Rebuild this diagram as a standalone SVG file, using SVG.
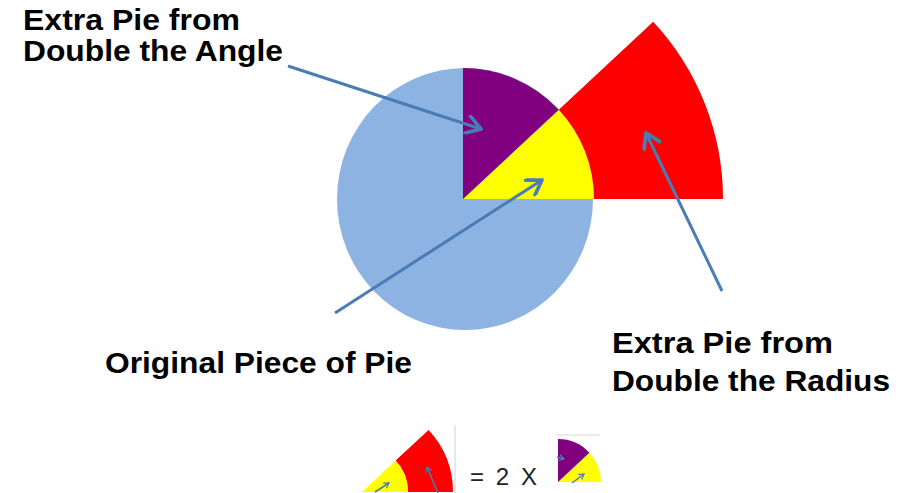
<svg xmlns="http://www.w3.org/2000/svg" width="898" height="493" viewBox="0 0 898 493">
  <defs>
    <marker id="arrow" markerUnits="userSpaceOnUse" markerWidth="20" markerHeight="20" refX="13" refY="8" orient="auto" viewBox="0 0 16 16">
      <path d="M2,1 L13,8 L2,15" fill="none" stroke="#4A7DB5" stroke-width="3" stroke-linecap="round" stroke-linejoin="round"/>
    </marker>
    <marker id="arrowSmall" markerUnits="userSpaceOnUse" markerWidth="8" markerHeight="8" refX="6" refY="4" orient="auto" viewBox="0 0 8 8">
      <path d="M1,1 L6,4 L1,7" fill="none" stroke="#4A7DB5" stroke-width="1.2"/>
    </marker>
  </defs>
  <style>
    .lbl { font-family: "Liberation Sans", Arial, sans-serif; font-weight: bold; font-size: 29px; fill: #000; }
    .conn { fill: none; stroke: #4A7DB5; stroke-width: 3; marker-end: url(#arrow); }
    .conn-s { fill: none; stroke: #4A7DB5; stroke-width: 1.5; marker-end: url(#arrowSmall); }
    .blue { fill: #8DB3E2; }
    .purple { fill: #800080; }
    .yellow { fill: #FFFF00; }
    .red { fill: #FF0000; }
  </style>
  <rect width="898" height="493" fill="#FFFFFF"/>

  <g id="pie">
    <ellipse class="blue" cx="465" cy="199" rx="128" ry="131"/>
  </g>
  <g id="original-piece">
    <path class="yellow" d="M463,199 L594,199 A131,131 0 0 0 558.8,109.7 Z"/>
  </g>
  <g id="extra-angle">
    <path class="purple" d="M463,199 L558.8,109.7 A131,131 0 0 0 463,68 Z"/>
  </g>
  <g id="extra-radius">
    <path class="red" d="M594,199 L723,199 A260,260 0 0 0 653.2,21.7 L558.8,109.7 A131,131 0 0 1 594,199 Z"/>
  </g>

  <g id="label-angle">
    <text class="lbl" x="23" y="30" textLength="217" lengthAdjust="spacingAndGlyphs">Extra Pie from</text>
    <text class="lbl" x="23" y="61" textLength="260" lengthAdjust="spacingAndGlyphs">Double the Angle</text>
  </g>
  <g id="label-original">
    <text class="lbl" x="105" y="373" textLength="307" lengthAdjust="spacingAndGlyphs">Original Piece of Pie</text>
  </g>
  <g id="label-radius">
    <text class="lbl" x="612" y="353" textLength="221" lengthAdjust="spacingAndGlyphs">Extra Pie from</text>
    <text class="lbl" x="612" y="391" textLength="278" lengthAdjust="spacingAndGlyphs">Double the Radius</text>
  </g>

  <g id="connectors">
    <line class="conn" x1="288" y1="66" x2="481" y2="129"/>
    <line class="conn" x1="335" y1="313" x2="542" y2="180"/>
    <line class="conn" x1="722" y1="291" x2="646" y2="133"/>
  </g>

  <g id="equation-left">
    <line x1="455" y1="425" x2="455" y2="493" stroke="#D0D0D0" stroke-width="1"/>
    <path class="red" d="M408,492 L453,492 A91,91 0 0 0 428.6,429.9 L395.6,460.6 A46,46 0 0 1 408,492 Z"/>
    <path class="yellow" d="M362,492 L408,492 A46,46 0 0 0 395.6,460.6 Z"/>
    <line class="conn-s" x1="375" y1="492" x2="389" y2="483"/>
    <line class="conn-s" x1="438" y1="493" x2="427" y2="467"/>
  </g>
  <g id="equation-text">
    <text x="470" y="485" font-family="'Liberation Sans', Arial, sans-serif" font-size="24" fill="#222" textLength="67" lengthAdjust="spacing">= 2 X</text>
  </g>
  <g id="equation-right">
    <line x1="557" y1="435" x2="600" y2="435" stroke="#D8D8D8" stroke-width="1"/>
    <path class="yellow" d="M558,482 L601,482 A43,43 0 0 0 589.4,452.7 Z"/>
    <path class="purple" d="M558,482 L589.4,452.7 A43,43 0 0 0 558,439 Z"/>
    <line class="conn-s" x1="557" y1="457" x2="564" y2="459"/>
    <line class="conn-s" x1="572" y1="483" x2="584" y2="474"/>
  </g>
</svg>
